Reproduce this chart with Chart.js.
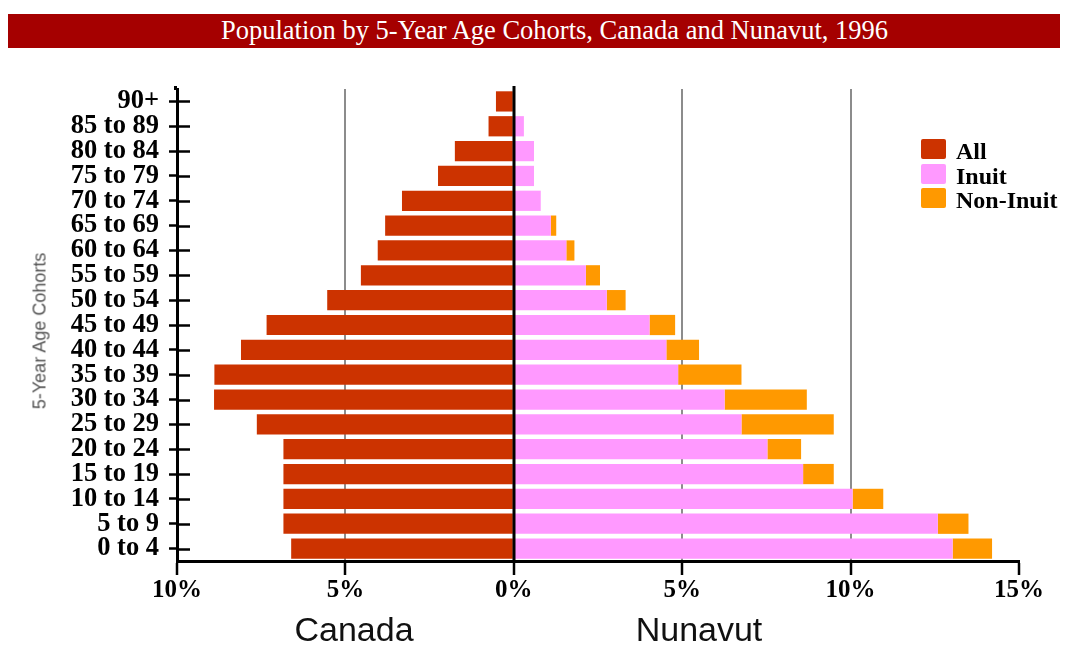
<!DOCTYPE html>
<html>
<head>
<meta charset="utf-8">
<script src="https://cdn.jsdelivr.net/npm/chart.js@4"></script>
<style>
    html, body { margin: 0; padding: 0; background: #fff; }
    #wrap { position: relative; width: 1068px; height: 645px; overflow: hidden; }
    #chart { position: absolute; left: 0; top: 0; }
    .banner { position: absolute; left: 8px; top: 14px; width: 1052px; height: 34px; background: #a50000; }
    .banner span { position: absolute; left: 213px; top: 1px; font: 26.5px "Liberation Serif", serif; color: #fff; white-space: nowrap; }
    .side { position: absolute; top: 610px; font: 34px "Liberation Sans", Arial, sans-serif; color: #111; transform: translateX(-50%); white-space: nowrap; }
    .ytitle { position: absolute; left: 40px; top: 331px; font: 18px "Liberation Sans", Arial, sans-serif; color: #555; white-space: nowrap; transform: translate(-50%, -50%) rotate(-90deg); }
    .legend { position: absolute; left: 921px; top: 139px; }
    .legend div { position: relative; height: 24.5px; font: bold 24px "Liberation Serif", serif; color: #000; line-height: 24px; padding-left: 35px; }
    .legend i { position: absolute; left: 0; top: 0; width: 25px; height: 20px; border-radius: 2px; }
</style>
</head>
<body>
<div id="wrap">
    <canvas id="chart" width="1068" height="645"></canvas>
    <div class="banner"><span>Population by 5-Year Age Cohorts, Canada and Nunavut, 1996</span></div>
    <div class="ytitle">5-Year Age Cohorts</div>
    <div class="side" style="left:354px">Canada</div>
    <div class="side" style="left:699px">Nunavut</div>
    <div class="legend">
        <div><i style="background:#cc3300"></i>All</div>
        <div><i style="background:#ff99ff"></i>Inuit</div>
        <div><i style="background:#ff9900"></i>Non-Inuit</div>
    </div>
</div>
<script>
// bottom-up order, percent of population
const ageGroups = ['0 to 4', '5 to 9', '10 to 14', '15 to 19', '20 to 24', '25 to 29', '30 to 34',
    '35 to 39', '40 to 44', '45 to 49', '50 to 54', '55 to 59', '60 to 64', '65 to 69',
    '70 to 74', '75 to 79', '80 to 84', '85 to 89', '90+'];
const canadaAll = [6.61, 6.84, 6.84, 6.84, 6.84, 7.63, 8.9, 8.89, 8.1, 7.34,
    5.54, 4.54, 4.04, 3.82, 3.32, 2.25, 1.75, 0.75, 0.53];
const nunavutInuit = [13.03, 12.59, 10.06, 8.59, 7.53, 6.76, 6.26, 4.88, 4.53, 4.03,
    2.76, 2.14, 1.56, 1.1, 0.8, 0.6, 0.6, 0.3, 0];
const nunavutNonInuit = [1.17, 0.91, 0.91, 0.91, 1.0, 2.74, 2.44, 1.88, 0.97, 0.76,
    0.56, 0.42, 0.24, 0.16, 0, 0, 0, 0, 0];
const xTicks = [-10, -5, 0, 5, 10, 15];

const axisExtras = {
    id: 'axisExtras',
    afterDatasetsDraw(chart) {
        const { ctx, chartArea, scales } = chart;
        ctx.save();
        ctx.strokeStyle = '#000';
        const top = chartArea.top - 3;
        // zero line over the bars
        const x0 = Math.round(scales.x.getPixelForValue(0));
        ctx.lineWidth = 3;
        ctx.beginPath();
        ctx.moveTo(x0, top);
        ctx.lineTo(x0, chartArea.bottom);
        ctx.stroke();
        // left axis pokes a little above the plot
        ctx.beginPath();
        ctx.moveTo(chartArea.left - 1.5, top);
        ctx.lineTo(chartArea.left - 1.5, chartArea.top + 1);
        ctx.stroke();
        // y ticks cross into the plot
        ctx.lineWidth = 2.5;
        ageGroups.forEach((g, i) => {
            const py = Math.round(scales.y.getPixelForValue(i)) + 0.5;
            ctx.beginPath();
            ctx.moveTo(chartArea.left, py);
            ctx.lineTo(chartArea.left + 13, py);
            ctx.stroke();
        });
        ctx.restore();
    }
};

new Chart(document.getElementById('chart'), {
    type: 'bar',
    data: {
        labels: ageGroups,
        datasets: [
            { label: 'All', data: canadaAll.map(v => -v), backgroundColor: '#cc3300' },
            { label: 'Inuit', data: nunavutInuit, backgroundColor: '#ff99ff' },
            { label: 'Non-Inuit', data: nunavutNonInuit, backgroundColor: '#ff9900' }
        ]
    },
    options: {
        indexAxis: 'y',
        responsive: false,
        animation: false,
        layout: { padding: { top: 89, right: 49, bottom: 0, left: 0 } },
        datasets: { bar: { categoryPercentage: 1, barPercentage: 0.815, borderWidth: 0 } },
        plugins: { legend: { display: false }, tooltip: { enabled: false } },
        scales: {
            x: {
                stacked: true,
                min: -10,
                max: 15,
                afterBuildTicks: (scale) => { scale.ticks = xTicks.map(v => ({ value: v })); },
                afterFit: (scale) => { scale.height = 84; },
                ticks: {
                    callback: (v) => Math.abs(v) + '%',
                    color: '#000',
                    padding: 1,
                    maxRotation: 0,
                    font: { family: 'Liberation Serif', weight: 'bold', size: 25 }
                },
                grid: {
                    color: (c) => (c.tick && (c.tick.value === 0 || c.tick.value === -10 || c.tick.value === 15)) ? 'rgba(0,0,0,0)' : '#8c8c8c',
                    lineWidth: 2,
                    tickColor: '#000',
                    tickWidth: 2.5,
                    tickLength: 14
                },
                border: { color: '#000', width: 3 }
            },
            y: {
                stacked: true,
                reverse: true,
                afterFit: (scale) => { scale.width = 177; },
                ticks: {
                    color: '#000',
                    padding: 10,
                    autoSkip: false,
                    font: { family: 'Liberation Serif', weight: 'bold', size: 26.5 }
                },
                grid: {
                    offset: false,
                    drawOnChartArea: false,
                    tickColor: '#000',
                    tickWidth: 2.5,
                    tickLength: 8
                },
                border: { color: '#000', width: 3 }
            }
        }
    },
    plugins: [axisExtras]
});
</script>
</body>
</html>
